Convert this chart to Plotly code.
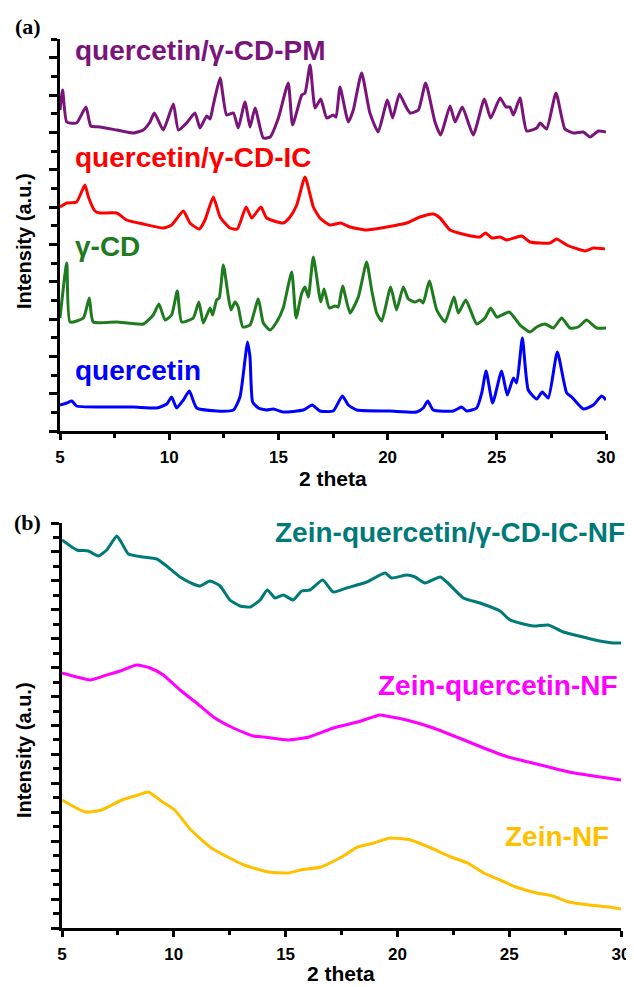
import plotly.graph_objects as go

# ---------------- Panel (a) data: 2theta (deg) and intensity (a.u.) ----------------
pm_x = [5.0, 5.12, 5.31, 5.76, 6.19, 6.41, 6.83, 7.60, 8.36, 8.81, 9.12, 9.32, 9.73, 10.19, 10.42, 10.80,
        11.18, 11.41, 11.72, 11.87, 12.02, 12.33, 12.63, 12.94, 13.16, 13.47, 13.70, 13.93, 14.31, 14.62,
        15.00, 15.45, 15.65, 16.07, 16.22, 16.45, 16.68, 16.94, 17.21, 17.51, 17.64, 17.82, 18.20, 18.43,
        18.81, 19.19, 19.57, 19.99, 20.23, 20.54, 20.80, 21.03, 21.41, 21.74, 22.17, 22.43, 22.86, 23.09,
        23.42, 23.92, 24.43, 24.72, 25.15, 25.42, 25.60, 25.76, 26.06, 26.37, 26.83, 26.98, 27.28, 27.71,
        28.12, 28.50, 28.96, 29.27, 29.65, 30.0]
pm_y = [321, 341, 309, 308, 324, 305, 304, 301, 298, 301, 309, 318, 301, 327, 301, 308,
        318, 303, 315, 312, 326, 353, 316, 318, 303, 329, 304, 323, 293, 294,
        313, 348, 306, 336, 338, 366, 323, 332, 313, 316, 314, 344, 309, 321,
        358, 318, 299, 331, 313, 337, 326, 318, 321, 348, 309, 296, 325, 309,
        324, 296, 332, 313, 333, 324, 324, 316, 333, 300, 303, 308, 302, 338,
        302, 298, 299, 294, 300, 299]

ic_x = [5.0, 5.31, 5.76, 6.14, 6.30, 6.60, 6.83, 7.60, 8.05, 8.81, 9.73, 10.11, 10.65, 10.95, 11.38,
        11.64, 12.02, 12.33, 12.78, 13.12, 13.52, 13.78, 14.20, 14.46, 15.22, 15.53, 15.84, 16.22, 16.60,
        16.90, 17.36, 17.85, 18.28, 19.04, 19.96, 20.87, 21.48, 22.09, 22.40, 22.86, 23.62, 24.23, 24.49,
        24.77, 25.15, 25.45, 26.14, 26.52, 27.44, 27.74, 28.20, 29.04, 29.42, 29.95]
ic_y = [224, 228, 229, 246, 234, 220, 218, 218, 211, 207, 203, 206, 220, 208, 202,
        211, 234, 214, 203, 202, 224, 213, 224, 213, 208, 214, 226, 254, 224,
        213, 206, 208, 204, 201, 204, 208, 214, 217, 213, 201, 196, 194, 198,
        193, 194, 191, 195, 189, 188, 192, 186, 180, 183, 182]

cd_x = [5.0, 5.31, 5.46, 6.07, 6.34, 6.52, 7.60, 8.81, 9.27, 9.53, 9.81, 10.11, 10.37, 10.57, 11.10,
        11.36, 11.56, 11.87, 11.99, 12.17, 12.29, 12.48, 12.71, 12.83, 13.01, 13.16, 13.37, 13.70, 14.08,
        14.31, 14.62, 14.92, 15.22, 15.61, 15.81, 16.07, 16.22, 16.37, 16.60, 16.94, 17.09, 17.33, 17.59,
        17.74, 17.94, 18.28, 18.66, 19.04, 19.27, 19.50, 19.73, 20.14, 20.41, 20.72, 20.95, 21.25, 21.48,
        21.63, 21.91, 22.25, 22.63, 23.04, 23.24, 23.58, 24.08, 24.46, 24.72, 25.00, 25.57, 26.06, 26.52,
        26.83, 27.21, 27.59, 27.97, 28.35, 28.73, 29.11, 29.57, 30.0]
cd_y = [113, 168, 109, 113, 133, 109, 109, 107, 116, 127, 111, 116, 140, 109, 113,
        129, 108, 123, 116, 131, 133, 166, 134, 121, 129, 124, 104, 106, 132,
        108, 101, 109, 123, 159, 113, 138, 144, 134, 174, 129, 142, 123, 125,
        124, 145, 118, 134, 169, 141, 118, 110, 144, 121, 144, 132, 129, 131,
        128, 150, 121, 109, 134, 118, 131, 107, 113, 123, 114, 119, 106, 99,
        104, 107, 103, 113, 103, 104, 111, 103, 103]

q_x = [5.0, 5.31, 5.54, 5.76, 6.83, 8.36, 9.43, 9.89, 10.11, 10.34, 10.65, 10.92, 11.26, 12.17, 12.94,
       13.24, 13.47, 13.58, 13.70, 13.82, 14.08, 14.46, 14.77, 15.22, 16.14, 16.55, 16.90, 17.51, 17.93,
       18.20, 18.59, 20.11, 21.33, 21.63, 21.84, 22.09, 23.01, 23.39, 23.62, 24.08, 24.31, 24.51, 24.81,
       25.22, 25.48, 25.76, 25.91, 26.17, 26.44, 26.83, 27.08, 27.36, 27.77, 28.20, 28.43, 28.96, 29.42,
       29.80, 30.0]
q_y = [26, 28, 30, 25, 24, 24, 23, 27, 34, 23, 31, 40, 23, 20, 21,
       34, 71, 89, 74, 29, 23, 21, 22, 19, 21, 26, 20, 20, 35,
       26, 21, 20, 19, 23, 30, 21, 20, 24, 20, 23, 38, 60, 28,
       60, 36, 53, 48, 93, 41, 32, 39, 33, 79, 38, 34, 22, 26,
       35, 31]

# ---------------- Panel (b) data ----------------
nf_ic_x = [5.0, 5.66, 6.18, 6.62, 7.0, 7.45, 7.67, 7.97, 8.64, 9.24, 9.68, 10.28, 10.87, 11.17, 11.62,
           12.07, 12.51, 12.96, 13.41, 13.86, 14.18, 14.53, 14.90, 15.34, 15.72, 16.09, 16.66, 17.13, 17.73,
           18.63, 19.45, 19.74, 20.42, 20.79, 21.23, 21.91, 22.21, 22.95, 23.69, 24.59, 25.04, 26.08, 26.75,
           27.42, 28.31, 29.06, 29.66, 30.0]
nf_ic_y = [388, 378, 377, 372, 378, 392, 385, 374, 371, 369, 362, 351, 344, 342, 347,
           342, 328, 322, 321, 328, 338, 330, 333, 328, 337, 338, 348, 336, 340,
           346, 355, 350, 353, 351, 345, 351, 346, 330, 325, 317, 308, 302, 303,
           296, 291, 287, 285, 285]

nf_q_x = [5.0, 5.66, 6.25, 7.0, 7.59, 8.34, 8.94, 9.53, 10.28, 11.02, 11.77, 12.66, 13.56, 14.03, 15.13,
          16.05, 17.13, 18.22, 19.22, 19.5, 20.41, 21.61, 22.76, 23.86, 24.95, 25.86, 26.77, 27.67, 28.77, 30.0]
nf_q_y = [255, 251, 248, 253, 257, 263, 260, 253, 238, 225, 211, 200, 192, 191, 188,
          191, 200, 206, 213, 212, 208, 200, 190, 180, 171, 166, 161, 156, 152, 148]

nf_x = [5.0, 6.05, 6.77, 7.68, 8.41, 8.86, 9.50, 10.04, 10.77, 11.68, 12.41, 13.14, 14.23, 15.13, 15.68,
        16.58, 17.50, 18.22, 18.95, 19.67, 20.59, 21.50, 22.40, 23.14, 23.86, 24.59, 25.30, 26.23, 26.95,
        27.67, 28.59, 29.50, 30.0]
nf_y = [128, 116, 118, 128, 133, 136, 126, 118, 98, 80, 71, 63, 56, 55, 58,
        61, 71, 81, 85, 90, 88, 80, 71, 65, 55, 48, 41, 35, 32,
        26, 23, 21, 19]

x_ticks = [5, 10, 15, 20, 25, 30]

C_PM, C_IC, C_CD, C_Q = "#7A147A", "#FF0000", "#1E7B1E", "#0000FF"
C_NFIC, C_NFQ, C_NF = "#007A78", "#FF00FF", "#FFC000"

# the page body has an 8px margin, so the figure is drawn from (8, 8) of the window
OFF = 8
W, H = 634 - OFF, 987 - OFF
SANS = "Liberation Sans, Arial"
fig = go.Figure()

def line(x, y, color, xa, ya, w=3, shape="spline"):
    fig.add_trace(go.Scatter(x=x, y=y, mode="lines",
                             line=dict(color=color, width=w, shape=shape, smoothing=0.5),
                             xaxis=xa, yaxis=ya, showlegend=False, hoverinfo="skip"))

line(pm_x, pm_y, C_PM, "x", "y")
line(ic_x, ic_y, C_IC, "x", "y")
line(cd_x, cd_y, C_CD, "x", "y")
line(q_x, q_y, C_Q, "x", "y")
line(nf_ic_x, nf_ic_y, C_NFIC, "x2", "y2")
line(nf_q_x, nf_q_y, C_NFQ, "x2", "y2")
line(nf_x, nf_y, C_NF, "x2", "y2")

def px(x):
    return (x - OFF) / W

def py(y):
    return 1 - (y - OFF) / H

tick_font = dict(family=SANS, color="black", size=17, weight="bold")

def xaxis_cfg(dom, anchor):
    return dict(domain=dom, anchor=anchor, range=[5, 30], tickvals=x_ticks, ticktext=[str(v) for v in x_ticks],
                showline=True, linecolor="black", linewidth=3, ticks="outside", ticklen=6, tickwidth=2.5,
                tickcolor="black", showgrid=False, zeroline=False, tickfont=tick_font, automargin=False,
                ticklabelstandoff=3,
                minor=dict(dtick=2.5, tick0=5, ticks="outside", ticklen=4, tickwidth=2.5, tickcolor="black", showgrid=False))

def yaxis_cfg(dom, anchor, top, step):
    return dict(domain=dom, anchor=anchor, range=[0, top], showticklabels=False, automargin=False,
                showline=True, linecolor="black", linewidth=3, ticks="outside", ticklen=8, tickwidth=2.5,
                tickcolor="black", tick0=0, dtick=2 * step, showgrid=False, zeroline=False,
                minor=dict(dtick=step, tick0=0, ticks="outside", ticklen=6, tickwidth=2.5, tickcolor="black", showgrid=False))

fig.update_layout(
    width=W, height=H, margin=dict(l=0, r=0, t=0, b=0, autoexpand=False),
    paper_bgcolor="white", plot_bgcolor="white",
    xaxis=xaxis_cfg([px(60), px(606)], "y"),
    yaxis=yaxis_cfg([py(431), py(39)], "x", 392, 392 / 21),
    xaxis2=xaxis_cfg([px(62), px(621)], "y2"),
    yaxis2=yaxis_cfg([py(928), py(523)], "x2", 405, 405 / 28),
)

def label(text, x, y, color, size=28, anchor="left", family=SANS, angle=0):
    fig.add_annotation(text=text, x=px(x), y=py(y), xref="paper", yref="paper", showarrow=False,
                       xanchor=anchor, yanchor="middle", textangle=angle,
                       font=dict(family=family, size=size, color=color, weight="bold"))

label("(a)", 13, 26, "black", size=22, family="Liberation Serif, Times New Roman")
label("(b)", 12, 522, "black", size=22, family="Liberation Serif, Times New Roman")
label("Intensity (a.u.)", 24, 241, "black", size=20, anchor="center", angle=-90)
label("Intensity (a.u.)", 24, 750, "black", size=20, anchor="center", angle=-90)
label("2 theta", 333, 478, "black", size=21, anchor="center")
label("2 theta", 341, 973, "black", size=21, anchor="center")
label("quercetin/γ-CD-PM", 73, 50, C_PM)
label("quercetin/γ-CD-IC", 73, 157, C_IC)
label("γ-CD", 73, 246, C_CD)
label("quercetin", 73, 370, C_Q)
label("Zein-quercetin/γ-CD-IC-NF", 627, 532, C_NFIC, anchor="right")
label("Zein-quercetin-NF", 620, 685, C_NFQ, anchor="right")
label("Zein-NF", 611, 836, C_NF, anchor="right")

fig.write_html("out.html")
